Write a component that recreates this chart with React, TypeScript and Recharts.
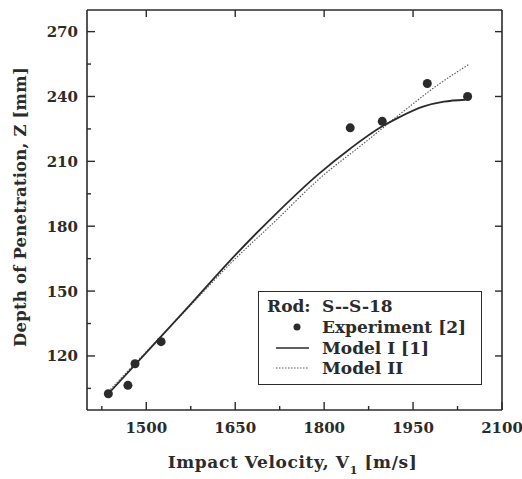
import React from "react";
import {
  ComposedChart,
  Line,
  Scatter,
  XAxis,
  YAxis,
  Legend,
  Label,
} from "recharts";

// ---- data ----
const expVelocity = [1436, 1469, 1481, 1525, 1844, 1898, 1974, 2042];
const expDepth = [102.5, 106.4, 116.4, 126.6, 225.5, 228.5, 246, 240];

const model1Velocity = [1436, 1500, 1575, 1641, 1720, 1790, 1845, 1898, 1923, 1968, 2002, 2038];
const model1Depth = [102.5, 121.5, 144, 164, 186.1, 204, 216.1, 226.2, 229.9, 235.4, 237.6, 238.5];

const model2Velocity = [1436, 1500, 1575, 1641, 1720, 1790, 1870, 1935, 1990, 2045];
const model2Depth = [103.5, 122, 143.5, 162.5, 183, 201.5, 219, 233.4, 245, 255];

const xMajorTicks = [1500, 1650, 1800, 1950, 2100];
const xAllTicks = [1425, 1500, 1575, 1650, 1725, 1800, 1875, 1950, 2025, 2100];
const yMajorTicks = [120, 150, 180, 210, 240, 270];
const yAllTicks = [105, 120, 135, 150, 165, 180, 195, 210, 225, 240, 255, 270];

const xDomain = [1400, 2100];
const yDomain = [95, 280];

const legendRod = "Rod:";
const legendRodName = "S--S-18";
const legendExp = "Experiment [2]";
const legendM1 = "Model I [1]";
const legendM2 = "Model II";

// ---- build series ----
const expData = expVelocity.map((v, i) => ({ x: v, y: expDepth[i] }));
const m1Data = model1Velocity.map((v, i) => ({ x: v, y: model1Depth[i] }));
const m2Data = model2Velocity.map((v, i) => ({ x: v, y: model2Depth[i] }));

const INK = "#2b2b2b";
const FONT = "'DejaVu Serif', serif";

const BottomTick = (props: any) => {
  const { x, y, payload } = props;
  const major = xMajorTicks.includes(payload.value);
  return (
    <g>
      <line x1={x} x2={x} y1={y} y2={y - (major ? 8 : 4)} stroke={INK} strokeWidth={1.4} />
      {major && (
        <text x={x} y={y + 23} textAnchor="middle" fontFamily={FONT} fontWeight="bold" fontSize={15} fill={INK}>
          {payload.value}
        </text>
      )}
    </g>
  );
};

const TopTick = (props: any) => {
  const { x, y } = props;
  return <line x1={x} x2={x} y1={y} y2={y + 7} stroke={INK} strokeWidth={1.4} />;
};

const LeftTick = (props: any) => {
  const { x, y, payload } = props;
  const major = yMajorTicks.includes(payload.value);
  return (
    <g>
      <line x1={x} x2={x + (major ? 8 : 4)} y1={y} y2={y} stroke={INK} strokeWidth={1.4} />
      {major && (
        <text x={x - 9} y={y + 5.5} textAnchor="end" fontFamily={FONT} fontWeight="bold" fontSize={15} fill={INK}>
          {payload.value}
        </text>
      )}
    </g>
  );
};

const RightTick = (props: any) => {
  const { x, y } = props;
  return <line x1={x} x2={x - 7} y1={y} y2={y} stroke={INK} strokeWidth={1.4} />;
};

const XTitle = (props: any) => {
  const vb = props.viewBox || { x: 87, y: 410, width: 415 };
  const cx = vb.x + vb.width / 2 - 2;
  return (
    <text
      x={cx}
      y={468}
      textAnchor="middle"
      fontFamily={FONT}
      fontWeight="bold"
      fontSize={17}
      letterSpacing={0.6}
      fill={INK}
    >
      <tspan>Impact Velocity, V</tspan>
      <tspan fontSize={11} dy={6}>1</tspan>
      <tspan dy={-6}>{"  [m/s]"}</tspan>
    </text>
  );
};

const YTitle = () => (
  <text
    x={20}
    y={207}
    transform="rotate(-90 20 207)"
    textAnchor="middle"
    dominantBaseline="central"
    fontFamily={FONT}
    fontWeight="bold"
    fontSize={16.5}
    letterSpacing={0.2}
    fill={INK}
  >
    Depth of Penetration, Z [mm]
  </text>
);

const LegendBox = () => {
  const textStyle: React.CSSProperties = {
    position: "absolute",
    fontFamily: FONT,
    fontWeight: "bold",
    fontSize: 17,
    color: INK,
    whiteSpace: "nowrap",
    lineHeight: "20px",
  };
  const rowTop = [4, 25, 46, 66];
  return (
    <div
      style={{
        position: "relative",
        width: 224,
        height: 94,
        border: `1.5px solid ${INK}`,
        boxSizing: "border-box",
        background: "#fff",
      }}
    >
      <div style={{ ...textStyle, left: 8, top: rowTop[0] }}>{legendRod}</div>
      <div style={{ ...textStyle, left: 63, top: rowTop[0] }}>{legendRodName}</div>
      <svg style={{ position: "absolute", left: 16, top: rowTop[1] }} width={40} height={20}>
        <circle cx={22} cy={10} r={3.5} fill={INK} />
      </svg>
      <div style={{ ...textStyle, left: 63, top: rowTop[1] }}>{legendExp}</div>
      <svg style={{ position: "absolute", left: 16, top: rowTop[2] }} width={40} height={20}>
        <line x1={1} x2={34} y1={10} y2={10} stroke={INK} strokeWidth={1.6} />
      </svg>
      <div style={{ ...textStyle, left: 63, top: rowTop[2] }}>{legendM1}</div>
      <svg style={{ position: "absolute", left: 16, top: rowTop[3] }} width={40} height={20}>
        <line x1={1} x2={34} y1={10} y2={10} stroke="#555" strokeWidth={1.1} strokeDasharray="1.5 1.5" />
      </svg>
      <div style={{ ...textStyle, left: 63, top: rowTop[3] }}>{legendM2}</div>
    </div>
  );
};

export default function App() {
  return (
    <div style={{ position: "absolute", left: 0, top: 0, width: 522, height: 479, background: "#fff" }}>
      <ComposedChart width={522} height={479} margin={{ top: 0, right: 0, bottom: 0, left: 0 }}>
        <XAxis
          xAxisId="b"
          dataKey="x"
          type="number"
          domain={xDomain}
          ticks={xAllTicks}
          allowDataOverflow
          orientation="bottom"
          height={69}
          tickSize={0}
          tickMargin={0}
          tickLine={false}
          tick={BottomTick}
          interval={0}
          axisLine={{ stroke: INK, strokeWidth: 1.6 }}
        >
          <Label content={XTitle} />
        </XAxis>
        <XAxis
          xAxisId="t"
          dataKey="x"
          type="number"
          domain={xDomain}
          ticks={xMajorTicks.slice(0, 4)}
          allowDataOverflow
          orientation="top"
          height={10}
          tickSize={0}
          tickMargin={0}
          tickLine={false}
          tick={TopTick}
          interval={0}
          axisLine={{ stroke: INK, strokeWidth: 1.6 }}
        />
        <YAxis
          yAxisId="l"
          type="number"
          domain={yDomain}
          ticks={yAllTicks}
          allowDataOverflow
          orientation="left"
          width={87}
          tickSize={0}
          tickMargin={0}
          tickLine={false}
          tick={LeftTick}
          interval={0}
          axisLine={{ stroke: INK, strokeWidth: 1.6 }}
        >
          <Label content={YTitle} />
        </YAxis>
        <YAxis
          yAxisId="r"
          type="number"
          domain={yDomain}
          ticks={yMajorTicks}
          allowDataOverflow
          orientation="right"
          width={20}
          tickSize={0}
          tickMargin={0}
          tickLine={false}
          tick={RightTick}
          interval={0}
          axisLine={{ stroke: INK, strokeWidth: 1.6 }}
        />
        <Line
          xAxisId="b"
          yAxisId="l"
          data={m2Data}
          dataKey="y"
          type="monotone"
          stroke="#555"
          strokeWidth={1.1}
          strokeDasharray="1.5 1.5"
          dot={false}
          activeDot={false}
          isAnimationActive={false}
          name={legendM2}
        />
        <Line
          xAxisId="b"
          yAxisId="l"
          data={m1Data}
          dataKey="y"
          type="monotone"
          stroke={INK}
          strokeWidth={1.8}
          dot={false}
          activeDot={false}
          isAnimationActive={false}
          name={legendM1}
        />
        <Scatter
          xAxisId="b"
          yAxisId="l"
          data={expData}
          dataKey="y"
          isAnimationActive={false}
          name={legendExp}
          shape={(p: any) => <circle cx={p.cx} cy={p.cy} r={4.5} fill={INK} />}
        />
        <Legend
          layout="horizontal"
          verticalAlign="middle"
          align="center"
          content={LegendBox}
          wrapperStyle={{ left: 258, top: 291, width: 224, height: 94 }}
        />
      </ComposedChart>
    </div>
  );
}
